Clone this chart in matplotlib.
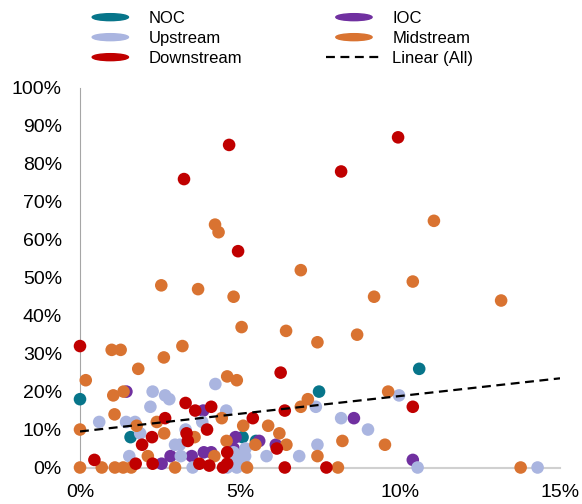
"""Scatter of the segments (x share vs y share) with a linear trend over all points."""

import numpy as np
import matplotlib
matplotlib.use("Agg")
import matplotlib.pyplot as plt
from matplotlib.patches import Ellipse, Patch
from matplotlib.lines import Line2D
from matplotlib.legend_handler import HandlerPatch
from matplotlib.ticker import FuncFormatter

plt.rcParams['font.family'] = ['Liberation Sans', 'DejaVu Sans']

# values in percent
noc_x = [0, 1.58, 5.08, 5.5, 7.47, 10.6]
noc_y = [18, 8, 8, 7, 20, 26]

ioc_x = [1.45, 2.55, 2.83, 3.49, 3.87, 4.1, 3.85, 4.86, 4.8, 5.6, 6.12, 8.56, 10.4]
ioc_y = [20, 1, 3, 3, 4, 4, 15, 8, 5, 7, 6, 13, 2]

upstream_x = [4.23, 2.27, 2.66, 2.79, 2.2, 0.6, 1.44, 1.72, 1.88, 3.3, 3.82, 4.57, 2.97,
              3.12, 3.15, 1.54, 4.8, 4.9, 5.17, 4.95, 5.16, 5.83, 6.85, 7.42, 7.37, 8.16,
              9.0, 9.97, 10.55, 14.3, 3.52, 4.9, 5.16, 4.6]
upstream_y = [22, 20, 19, 18, 16, 12, 12, 12, 9, 10, 12, 15, 6,
              6, 3, 3, 4, 2, 5, 3, 3, 3, 3, 6, 16, 13,
              10, 19, 0, 0, 0, 0, 0.5, 0]

midstream_x = [4.22, 4.33, 6.9, 11.06, 10.4, 9.19, 13.16, 8.66, 7.42, 2.54, 3.69, 4.8,
               5.05, 6.44, 0.99, 1.27, 2.62, 3.2, 1.82, 0.18, 4.6, 4.9, 1.04, 1.36,
               1.08, 1.77, 2.4, 2.63, 0, 4.43, 5.1, 5.88, 6.23, 6.45, 4.58, 5.48,
               3.58, 2.12, 4.2, 6.9, 7.12, 9.63, 8.2, 9.53, 7.42, 8.06, 13.77, 0,
               0.68, 1.09, 1.35, 1.6, 2.97, 5.22]
midstream_y = [64, 62, 52, 65, 49, 45, 44, 35, 33, 48, 47, 45,
               37, 36, 31, 31, 29, 32, 26, 23, 24, 23, 19, 20,
               14, 11, 12, 9, 10, 13, 11, 11, 9, 6, 7, 6,
               8, 3, 3, 16, 18, 20, 7, 6, 3, 0, 0, 0,
               0, 0, 0, 0, 0, 0]

downstream_x = [0, 3.25, 4.66, 4.94, 8.16, 9.94, 6.27, 10.4, 0.45, 3.3, 3.6, 4.1, 3.97,
                3.33, 3.37, 2.66, 2.25, 1.94, 5.4, 6.4, 6.15, 1.74, 2.27, 3.73, 4.04,
                4.6, 4.6, 4.47, 6.4, 7.7]
downstream_y = [32, 76, 85, 57, 78, 87, 25, 16, 2, 17, 15, 16, 10,
                9, 7, 13, 8, 6, 13, 15, 5, 1, 1, 1, 0.5,
                4, 1, 0, 0, 0]

# Excel trendline "Linear (All)" as shown: value at 0% and at 15%
trend_x = [0, 15]
trend_y = [9.5, 23.5]

series = [
	("NOC", noc_x, noc_y, "#07758a"),
	("IOC", ioc_x, ioc_y, "#7030a0"),
	("Upstream", upstream_x, upstream_y, "#aab5e0"),
	("Midstream", midstream_x, midstream_y, "#d97331"),
	("Downstream", downstream_x, downstream_y, "#c00000"),
]


class HandlerEllipse(HandlerPatch):
	"""Excel-like flat ellipse as legend key"""
	def create_artists(self, legend, orig_handle, xdescent, ydescent, width, height, fontsize, trans):
		center = 0.5 * width - xdescent, 0.5 * height - ydescent
		p = Ellipse(xy=center, width=width * 0.64, height=height * 0.6)
		self.update_prop(p, orig_handle, legend)
		p.set_transform(trans)
		return [p]


fig = plt.figure(figsize=(5.82, 5.04), dpi=100)
ax = fig.add_axes([80 / 582, 1 - 467.5 / 504, 480 / 582, 379.5 / 504])

for name, x, y, color in series:
	ax.scatter(x, y, s=82, color=color, edgecolors='none', clip_on=False, zorder=3)

ax.plot(trend_x, trend_y, '--', color='black', lw=1.6, dashes=(4, 2.5), zorder=4)

ax.set_xlim(0, 15)
ax.set_ylim(0, 100)
ax.set_xticks([0, 5, 10, 15])
ax.set_yticks(range(0, 101, 10))
fmt = FuncFormatter(lambda v, pos: "%d%%" % v)
ax.xaxis.set_major_formatter(fmt)
ax.yaxis.set_major_formatter(fmt)
ax.tick_params(length=0, labelsize=14, colors='black')
ax.tick_params(axis='x', pad=12)
ax.tick_params(axis='y', pad=13)
for side in ['top', 'right']:
	ax.spines[side].set_visible(False)
ax.spines['left'].set_color('#a6a6a6')
ax.spines['bottom'].set_color('#d0d0d0')
ax.spines['bottom'].set_linewidth(1.5)
ax.spines['bottom'].set_zorder(1)

# legend: NOC / Upstream / Downstream then IOC / Midstream / Linear
colors = {name: color for name, _, _, color in series}
handles = [Patch(color=colors["NOC"]), Patch(color=colors["Upstream"]), Patch(color=colors["Downstream"]),
           Patch(color=colors["IOC"]), Patch(color=colors["Midstream"]),
           Line2D([], [], ls='--', color='black', lw=1.6, dashes=(4, 2.5))]
labels = ["NOC", "Upstream", "Downstream", "IOC", "Midstream", "Linear (All)"]
fig.legend(handles, labels, ncol=2, loc='upper left', bbox_to_anchor=(82 / 582, 1 - 11 / 504),
           frameon=False, fontsize=12, handlelength=3.4, handletextpad=0.6, columnspacing=5.0,
           labelspacing=0.3, borderpad=0, borderaxespad=0,
           handler_map={Patch: HandlerEllipse()})

fig.savefig("out.png", dpi=100)
